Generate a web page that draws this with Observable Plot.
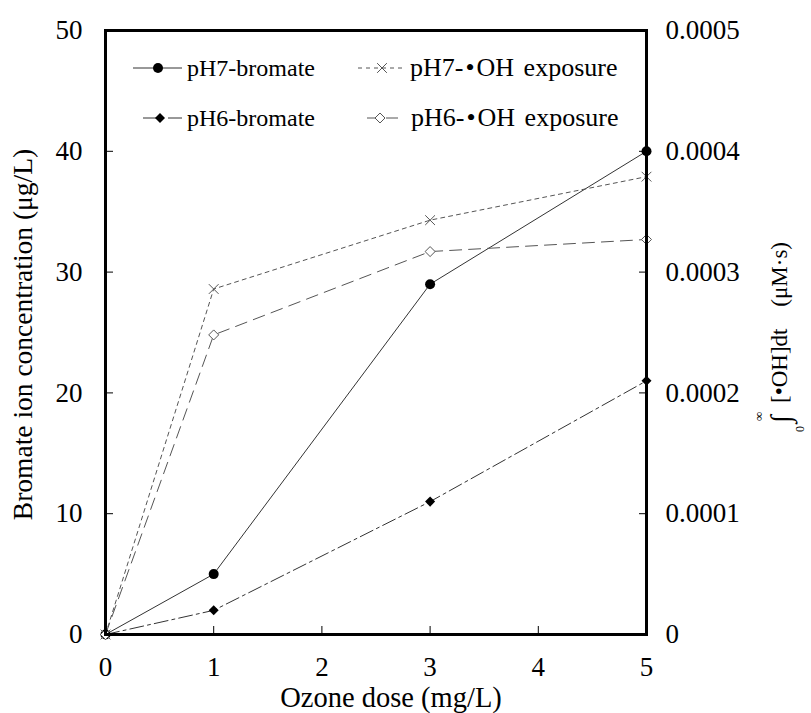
<!DOCTYPE html>
<html><head><meta charset="utf-8">
<script src="https://cdn.jsdelivr.net/npm/d3@7"></script>
<script src="https://cdn.jsdelivr.net/npm/@observablehq/plot@0.6"></script>
<style>body{margin:0;background:#fff}</style>
</head><body><div id="chart"></div>
<script>
const doses = [0, 1, 3, 5];
const pH7Bromate = [0, 5, 29, 40];
const pH6Bromate = [0, 2, 11, 21];
const pH7OH = [0, 0.000286, 0.000343, 0.000379];
const pH6OH = [0, 0.000248, 0.000317, 0.000327];
const xTicks = [0, 1, 2, 3, 4, 5];
const leftTicks = [0, 10, 20, 30, 40, 50];
const rightTicks = [0, 0.0001, 0.0002, 0.0003, 0.0004, 0.0005];
const rightTickLabels = ["0", "0.0001", "0.0002", "0.0003", "0.0004", "0.0005"];
const seriesNames = ["pH7-bromate", "pH6-bromate", "pH7-•OH exposure", "pH6-•OH exposure"];
const xLabel = "Ozone dose (mg/L)";
const yLabel = "Bromate ion concentration (μg/L)";

const factor = 50 / 0.0005; // right axis domain mapped onto left axis domain
const rows = (vals, name, k = 1) => doses.map((d, i) => ({dose: d, value: vals[i] * k, series: name}));
const s7b = rows(pH7Bromate, seriesNames[0]);
const s6b = rows(pH6Bromate, seriesNames[1]);
const s7o = rows(pH7OH, seriesNames[2], factor);
const s6o = rows(pH6OH, seriesNames[3], factor);

const styles = [
  {dash: null, symbol: "circle", rot: 0, r: 5, fill: "black", stroke: "none", line: "#333"},
  {dash: "14,4,3,4", symbol: "square", rot: 45, r: 4, fill: "black", stroke: "none", line: "#333"},
  {dash: "4,4", symbol: "times", rot: 0, r: 4.5, fill: "none", stroke: "#555", line: "#555"},
  {dash: "12,7", symbol: "diamond2", rot: 0, r: 4.5, fill: "white", stroke: "#555", line: "#555"}
];
const allSeries = [s7b, s6b, s7o, s6o];

const FONT = "'Liberation Serif', 'Times New Roman', serif";
const marks = [];
allSeries.forEach((s, i) => {
  const st = styles[i];
  marks.push(Plot.line(s, {x: "dose", y: "value", stroke: st.line, strokeWidth: 1, strokeDasharray: st.dash}));
});
allSeries.forEach((s, i) => {
  const st = styles[i];
  marks.push(Plot.dot(s, {x: "dose", y: "value", symbol: () => st.symbol, rotate: st.rot, r: st.r, fill: st.fill, stroke: st.stroke, strokeWidth: 1}));
});
marks.push(Plot.frame({strokeWidth: 3, stroke: "black"}));
marks.push(Plot.axisX(xTicks, {anchor: "bottom", tickSize: -8, tickPadding: 30, label: null, fontSize: 27}));
marks.push(Plot.axisY(leftTicks, {anchor: "left", tickSize: -8, tickPadding: 31, label: null, fontSize: 27}));
marks.push(Plot.axisY(rightTicks.map(v => v * factor), {
  anchor: "right", tickSize: -8, tickPadding: 27, label: null, fontSize: 27,
  tickFormat: d => rightTickLabels[rightTicks.findIndex(v => Math.abs(v * factor - d) < 1e-6)]
}));
marks.push(Plot.text([xLabel], {frameAnchor: "bottom", textAnchor: "middle", dx: 15, dy: 63, lineAnchor: "middle", fontSize: 28.5, fill: "black"}));
marks.push(Plot.text([yLabel], {frameAnchor: "left", textAnchor: "middle", rotate: -90, dx: -82, dy: 2, lineAnchor: "middle", fontSize: 27.5, fill: "black"}));

const svg = Plot.plot({
  width: 811, height: 713,
  marginLeft: 105, marginRight: 165, marginTop: 30, marginBottom: 79,
  style: `font-family: ${FONT}; font-size: 27px; color: black; background: white;`,
  x: {domain: [0, 5]},
  y: {domain: [0, 50]},
  marks
});
document.getElementById("chart").appendChild(svg);

// Right-axis title with integral notation
const s = d3.select(svg);
const rt = s.append("g").attr("transform", "translate(787,0) rotate(-90)")
  .style("font-family", FONT).attr("fill", "black");
rt.append("text").attr("x", -242).attr("y", 0).attr("text-anchor", "end").attr("font-size", 23).text("(μM·s)");
rt.append("text").attr("x", -403).attr("y", 0).attr("text-anchor", "start").attr("font-size", 23).text("[•OH]dt");
rt.append("text").attr("x", -423).attr("y", 3).attr("text-anchor", "start").attr("font-size", 28).text("∫");
rt.append("text").attr("x", -421).attr("y", -24).attr("text-anchor", "start").attr("font-size", 13).text("∞");
rt.append("text").attr("x", -432).attr("y", 17).attr("text-anchor", "start").attr("font-size", 12).text("0");

// Legend inside the plot frame
const legendItems = [
  {i: 0, x1: 133, x2: 182, mx: 158, y: 68, tx: 187, fs: 24},
  {i: 2, x1: 358, x2: 405, mx: 382, y: 68, tx: 410, fs: 26},
  {i: 1, x1: 143, x2: 182, mx: 160, y: 118, tx: 187, fs: 24},
  {i: 3, x1: 367, x2: 403, mx: 380, y: 118, tx: 411, fs: 26}
];
const symMap = {circle: d3.symbolCircle, square: d3.symbolSquare, times: d3.symbolTimes, diamond2: d3.symbolDiamond2};
const lg = s.append("g").style("font-family", FONT).attr("fill", "black").attr("text-anchor", "start");
legendItems.forEach(it => {
  const st = styles[it.i];
  lg.append("line").attr("x1", it.x1).attr("x2", it.x2).attr("y1", it.y).attr("y2", it.y)
    .attr("stroke", st.line).attr("stroke-width", 1).attr("stroke-dasharray", st.dash);
  lg.append("path").attr("transform", `translate(${it.mx},${it.y}) rotate(${st.rot})`)
    .attr("d", d3.symbol(symMap[st.symbol], Math.PI * st.r * st.r)())
    .attr("fill", st.fill).attr("stroke", st.stroke);
  const t = lg.append("text").attr("x", it.tx).attr("y", it.y + 8).attr("text-anchor", "start").attr("font-size", it.fs);
  const parts = seriesNames[it.i].split("•");
  if (parts.length === 1) {
    t.text(parts[0]);
  } else {
    t.append("tspan").text(parts[0]);
    t.append("tspan").attr("dx", 2).text("•");
    const rest = parts[1].split(" ");
    t.append("tspan").attr("dx", 2).text(rest[0]);
    t.append("tspan").attr("dx", 3).text(" " + rest.slice(1).join(" "));
  }
});
</script></body></html>
